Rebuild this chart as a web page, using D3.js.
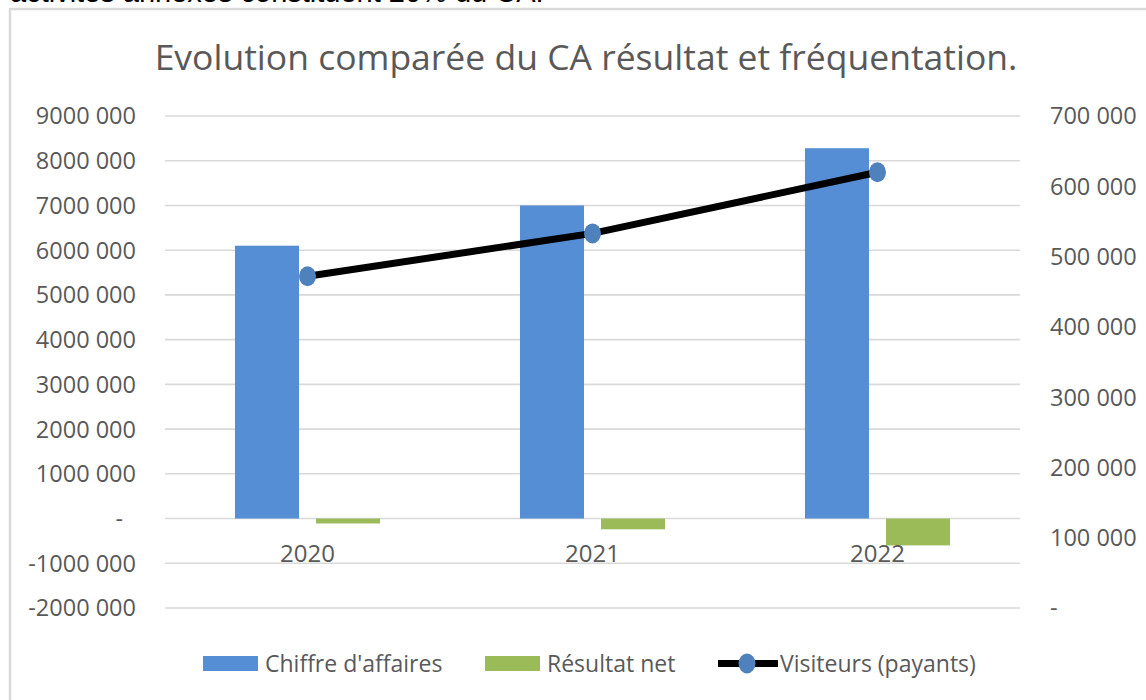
<!DOCTYPE html>
<html>
<head>
<meta charset="utf-8">
<script src="https://cdn.jsdelivr.net/npm/d3@7"></script>
<style>
  body { margin: 0; background: #fff; }
  svg text { font-family: "Open Sans", sans-serif; }
</style>
</head>
<body>
<svg id="chart" width="1146" height="700"></svg>
<script>
// chart data
var years = ["2020", "2021", "2022"];
var chiffreAffaires = [6100000, 7000000, 8280000];
var resultatNet = [-110000, -240000, -600000];
var visiteurs = [472000, 533000, 620000];
var leftTicks = [-2000000, -1000000, 0, 1000000, 2000000, 3000000, 4000000, 5000000, 6000000, 7000000, 8000000, 9000000];
var rightTicks = [0, 100000, 200000, 300000, 400000, 500000, 600000, 700000];
var seriesNames = ["Chiffre d'affaires", "Résultat net", "Visiteurs (payants)"];

var blue = "#558ed5", green = "#9bbb59", marker = "#4f81bd", txt = "#595959";

window.onload = function() {
    drawChart();
};

// "9000 000" style, "-" for zero
function fmt(v) {
    if (v === 0) return "-";
    var sign = v < 0 ? "-" : "";
    var a = Math.abs(v);
    var th = Math.floor(a / 1000), r = a % 1000;
    return sign + th + " " + String(r).padStart(3, "0");
}

function drawChart() {
    var svg = d3.select("#chart");

    // text above the chart box (cut off)
    svg.append("text")
        .attr("x", 10).attr("y", 2)
        .style("font-family", "'Liberation Sans', Arial, sans-serif")
        .style("font-size", "29px")
        .attr("fill", "#000")
        .text("activités annexes constituent 20% du CA.");

    // chart box
    svg.append("rect")
        .attr("x", 10).attr("y", 9)
        .attr("width", 1160).attr("height", 720)
        .attr("fill", "#fff")
        .attr("stroke", "#d9d9d9").attr("stroke-width", 2.5);

    var left = 165, right = 1020, top = 116, bottom = 608;

    var yL = d3.scaleLinear().domain([-2000000, 9000000]).range([bottom, top]);
    var yR = d3.scaleLinear().domain([0, 700000]).range([bottom, top]);

    var x0 = d3.scaleBand().domain(years).range([left, right])
        .paddingInner(0.491).paddingOuter(0.2456);
    var x1 = d3.scaleBand().domain([0, 1]).range([0, x0.bandwidth()])
        .paddingInner(0.21).paddingOuter(0);

    // title
    svg.append("text")
        .attr("x", 586).attr("y", 70)
        .attr("text-anchor", "middle")
        .attr("fill", txt)
        .style("font-size", "35.5px")
        .text("Evolution comparée du CA résultat et fréquentation.");

    // gridlines
    svg.append("g").selectAll("line")
        .data(leftTicks).enter().append("line")
        .attr("x1", left).attr("x2", right)
        .attr("y1", function(d) { return yL(d); })
        .attr("y2", function(d) { return yL(d); })
        .attr("stroke", "#d9d9d9").attr("stroke-width", 1.6);

    // left axis labels
    svg.append("g").selectAll("text")
        .data(leftTicks).enter().append("text")
        .attr("x", function(d) { return d === 0 ? 123 : 136; })
        .attr("y", function(d) { return yL(d); })
        .attr("dy", "0.36em")
        .attr("text-anchor", "end")
        .attr("fill", txt)
        .style("font-size", "23.5px")
        .text(fmt);

    // right axis labels
    svg.append("g").selectAll("text")
        .data(rightTicks).enter().append("text")
        .attr("x", 1050)
        .attr("y", function(d) { return yR(d); })
        .attr("dy", "0.36em")
        .attr("fill", txt)
        .style("font-size", "23.5px")
        .text(fmt);

    // bars
    var groups = svg.append("g").selectAll("g")
        .data(years).enter().append("g")
        .attr("transform", function(d) { return "translate(" + x0(d) + ",0)"; });

    groups.append("rect")
        .attr("x", x1(0)).attr("width", x1.bandwidth())
        .attr("y", function(d, i) { return yL(chiffreAffaires[i]); })
        .attr("height", function(d, i) { return yL(0) - yL(chiffreAffaires[i]); })
        .attr("fill", blue);

    groups.append("rect")
        .attr("x", x1(1)).attr("width", x1.bandwidth())
        .attr("y", yL(0))
        .attr("height", function(d, i) { return yL(resultatNet[i]) - yL(0); })
        .attr("fill", green);

    // category labels
    svg.append("g").selectAll("text")
        .data(years).enter().append("text")
        .attr("x", function(d) { return x0(d) + x0.bandwidth() / 2; })
        .attr("y", 562)
        .attr("text-anchor", "middle")
        .attr("fill", txt)
        .style("font-size", "24px")
        .text(function(d) { return d; });

    // visitors line
    var cx = function(d, i) { return x0(years[i]) + x0.bandwidth() / 2; };
    var line = d3.line()
        .x(cx)
        .y(function(d) { return yR(d); });

    svg.append("path")
        .datum(visiteurs)
        .attr("d", line)
        .attr("fill", "none")
        .attr("stroke", "#000")
        .attr("stroke-width", 7);

    svg.append("g").selectAll("ellipse")
        .data(visiteurs).enter().append("ellipse")
        .attr("cx", cx)
        .attr("cy", function(d) { return yR(d); })
        .attr("rx", 8.5).attr("ry", 10)
        .attr("fill", marker);

    // legend
    var leg = svg.append("g");
    leg.append("rect").attr("x", 203).attr("y", 656).attr("width", 55).attr("height", 15).attr("fill", blue);
    leg.append("text").attr("x", 265).attr("y", 672).attr("fill", txt).style("font-size", "23px").text(seriesNames[0]);
    leg.append("rect").attr("x", 485).attr("y", 656).attr("width", 55).attr("height", 15).attr("fill", green);
    leg.append("text").attr("x", 547).attr("y", 672).attr("fill", txt).style("font-size", "23px").text(seriesNames[1]);
    leg.append("line").attr("x1", 718).attr("x2", 778).attr("y1", 663.5).attr("y2", 663.5)
        .attr("stroke", "#000").attr("stroke-width", 7);
    leg.append("ellipse").attr("cx", 747).attr("cy", 663.5).attr("rx", 8.5).attr("ry", 10).attr("fill", marker);
    leg.append("text").attr("x", 780).attr("y", 672).attr("fill", txt).style("font-size", "23px").text(seriesNames[2]);
}
</script>
</body>
</html>
